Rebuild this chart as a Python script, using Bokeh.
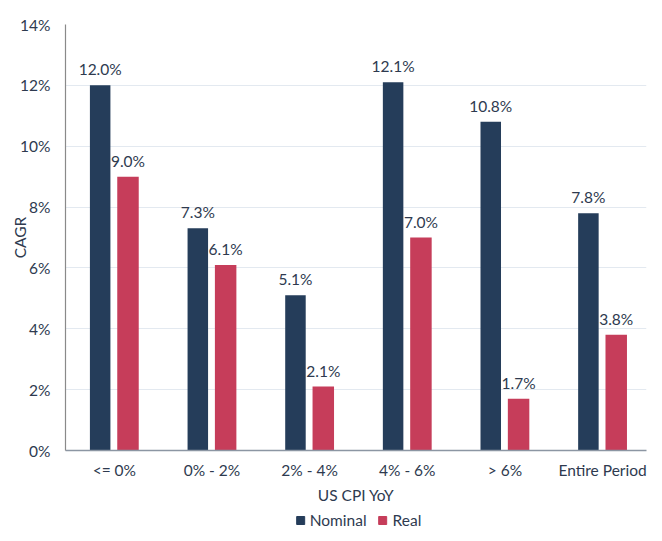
from bokeh.plotting import figure
from bokeh.layouts import column
from bokeh.models import ColumnDataSource, FixedTicker, PrintfTickFormatter, Legend, LegendItem
from bokeh.transform import dodge
from bokeh.core.properties import value
from bokeh.embed import file_html
from bokeh.resources import INLINE

categories = ["<= 0%", "0% - 2%", "2% - 4%", "4% - 6%", "> 6%", "Entire Period"]
nominal = [12.0, 7.3, 5.1, 12.1, 10.8, 7.8]
real = [9.0, 6.1, 2.1, 7.0, 1.7, 3.8]
y_ticks = [0, 2, 4, 6, 8, 10, 12, 14]
series_names = ["Nominal", "Real"]

FONT = "Lato"
FS = "15.5px"
TEXT = "#2E3A4F"
NAVY = "#253D5A"
RED = "#C63D5A"

idx = list(range(len(categories)))
src = ColumnDataSource(dict(
    x=idx, nominal=nominal, real=real,
    nominal_lbl=[f"{v:.1f}%" for v in nominal],
    real_lbl=[f"{v:.1f}%" for v in real],
))

p = figure(width=654, height=506, x_range=(-0.5, 5.45), y_range=(0, 14),
           output_backend="svg", toolbar_location=None,
           min_border_left=65, min_border_right=1, min_border_top=24, min_border_bottom=52)
p.outline_line_color = None
p.background_fill_color = "white"

xn = dodge("x", -0.145, range=p.x_range)
xr = dodge("x", 0.14, range=p.x_range)

p.vbar(x=xn, top="nominal", width=0.21, source=src, fill_color=NAVY, line_color=None)
p.vbar(x=xr, top="real", width=0.22, source=src, fill_color=RED, line_color=None)

for xx, col in ((xn, "nominal"), (xr, "real")):
    p.text(x=xx, y=col, text=col + "_lbl", source=src, text_font=value(FONT),
           text_font_size=FS, text_color=TEXT, text_align="center",
           text_baseline="bottom", y_offset=-7)

# axes
p.xaxis.ticker = FixedTicker(ticks=idx)
p.xaxis.major_label_overrides = {i: c for i, c in enumerate(categories)}
p.yaxis.ticker = FixedTicker(ticks=y_ticks)
p.yaxis.formatter = PrintfTickFormatter(format="%d%%")
p.xaxis.axis_label = "US CPI YoY"
p.yaxis.axis_label = "CAGR"
for ax in (p.xaxis, p.yaxis):
    ax.major_tick_line_color = None
    ax.minor_tick_line_color = None
    ax.major_tick_out = 0
    ax.major_tick_in = 0
    ax.major_label_text_font = FONT
    ax.major_label_text_font_size = FS
    ax.major_label_text_color = TEXT
    ax.axis_label_text_font = FONT
    ax.axis_label_text_font_size = FS
    ax.axis_label_text_font_style = "normal"
    ax.axis_label_text_color = TEXT
p.xaxis.major_label_standoff = 10
p.xaxis.axis_label_standoff = 4
p.xaxis.axis_line_color = "#8C96A3"
p.xaxis.axis_line_width = 1.5
p.yaxis.major_label_standoff = 15
p.yaxis.axis_label_standoff = -12
p.yaxis.axis_line_color = "#8A8A8A"
p.yaxis.axis_line_width = 1.2

p.xgrid.grid_line_color = None
p.ygrid.ticker = FixedTicker(ticks=y_ticks)
p.ygrid.grid_line_color = "#E3E9F0"
p.ygrid.grid_line_width = 1

# legend strip (separate small figure so the legend is not clipped)
lg = figure(width=654, height=27, x_range=(0, 1), y_range=(0, 1),
            output_backend="svg", toolbar_location=None,
            x_axis_location=None, y_axis_location=None,
            min_border_left=58, min_border_right=8, min_border_top=0, min_border_bottom=0)
lg.outline_line_color = None
lg.xgrid.visible = False
lg.ygrid.visible = False
r1 = lg.scatter(x=[-5], y=[-5], marker="square", size=8, color=NAVY)
r2 = lg.scatter(x=[-5], y=[-5], marker="square", size=8, color=RED)
legend = Legend(items=[LegendItem(label=series_names[0], renderers=[r1]),
                       LegendItem(label=series_names[1], renderers=[r2])],
                orientation="horizontal", location="center",
                glyph_width=20, glyph_height=20, label_standoff=-2, spacing=6,
                padding=0, margin=0, border_line_color=None, background_fill_alpha=0,
                label_text_font=FONT, label_text_font_size=FS, label_text_color=TEXT)
lg.add_layout(legend)

layout = column(p, lg, spacing=0)
open("out.html", "w").write(file_html(layout, INLINE))
